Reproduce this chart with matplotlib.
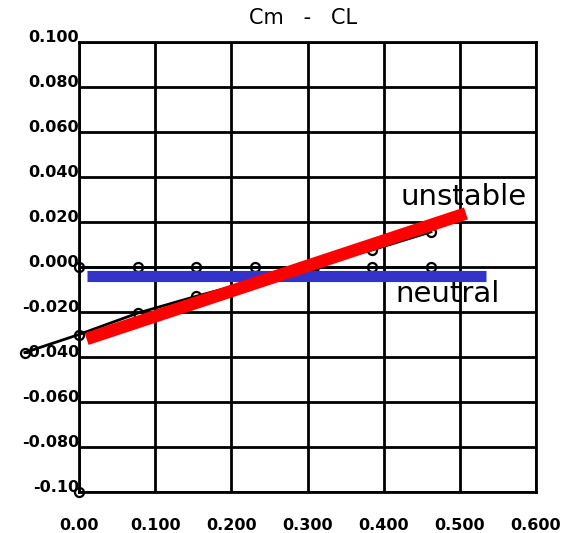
import matplotlib.pyplot as plt

cl_pts = [0.0, 0.077, 0.154, 0.231, 0.308, 0.385, 0.462]
cm_flat = [0.0, 0.0, 0.0, 0.0, 0.0, 0.0, 0.0]

cl_slope = [-0.071, 0.0, 0.077, 0.154, 0.231, 0.308, 0.385, 0.462]
cm_slope = [-0.038, -0.030, -0.0205, -0.013, -0.006, 0.001, 0.0076, 0.0156]

# hand-drawn annotation lines
unstable_x = [0.010, 0.508]
unstable_y = [-0.032, 0.0238]
neutral_x = [0.010, 0.535]
neutral_y = [-0.0042, -0.0042]

xticks = [0.0, 0.1, 0.2, 0.3, 0.4, 0.5, 0.6]
xlabels = ["0.00", "0.100", "0.200", "0.300", "0.400", "0.500", "0.600"]
yticks = [0.1, 0.08, 0.06, 0.04, 0.02, 0.0, -0.02, -0.04, -0.06, -0.08, -0.1]
ylabels = ["0.100", "0.080", "0.060", "0.040", "0.020", "0.000",
           "-0.020", "-0.040", "-0.060", "-0.080", "-0.10"]

fig = plt.figure(figsize=(5.72, 5.33), dpi=100)
ax = fig.add_axes([79 / 572, 41 / 533, 457 / 572, 450 / 533])

ax.set_xlim(0, 0.6)
ax.set_ylim(-0.1, 0.1)
ax.set_xticks(xticks)
ax.set_xticklabels(xlabels)
ax.set_yticks(yticks)
ax.set_yticklabels(ylabels)
ax.grid(True, color="black", linewidth=2)
for s in ax.spines.values():
    s.set_linewidth(2)
ax.tick_params(length=0, pad=0)
ax.tick_params(axis="x", pad=19)
for lab in ax.get_xticklabels() + ax.get_yticklabels():
    lab.set_fontfamily("DejaVu Sans")
    lab.set_fontweight("bold")
    lab.set_fontsize(11.5)
for lab in ax.get_yticklabels():
    lab.set_verticalalignment("baseline")

# the computed curves
mk = dict(marker="o", ms=6.5, mfc="none", mec="black", mew=1.6)
ax.plot(cl_pts, cm_flat, color="black", lw=2, zorder=3, clip_on=False, **mk)
ax.plot(cl_slope, cm_slope, color="black", lw=2, zorder=3, clip_on=False, **mk)
ax.plot([0.0], [-0.1], lw=0, zorder=3, clip_on=False, **mk)

# highlighter lines
ax.plot(neutral_x, neutral_y, color="#3333CC", lw=8, solid_capstyle="butt", zorder=4)
ax.plot(unstable_x, unstable_y, color="red", lw=9, solid_capstyle="butt", zorder=5)

ax.text(0.422, 0.031, "unstable", fontsize=21, ha="left", va="center")
ax.text(0.415, -0.012, "neutral", fontsize=21, ha="left", va="center")

ax.set_title("Cm   -   CL", fontsize=15, pad=13, x=0.49)

fig.savefig("out.png", dpi=100)
